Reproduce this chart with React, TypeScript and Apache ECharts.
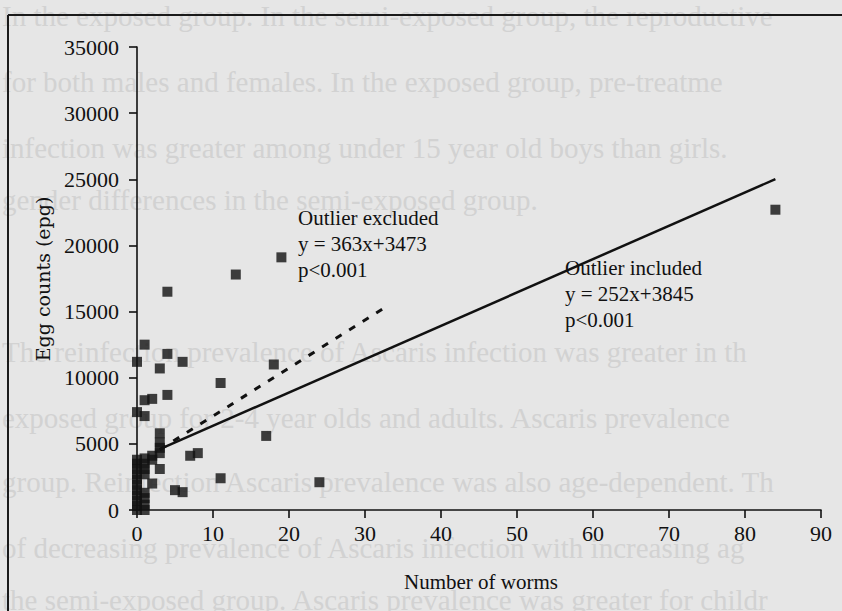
import React, { useEffect, useRef } from "react";
import * as echarts from "echarts";

// Scatter points: [number of worms, egg count (epg)]
const scatterPoints: [number, number][] = [
  [0, 11200], [1, 12500], [3, 10700], [4, 11800], [6, 11200],
  [4, 16500], [13, 17800], [19, 19100], [18, 11000], [11, 9600], [84, 22700],
  [1, 8300], [2, 8400], [4, 8700], [0, 7400], [1, 7100], [3, 5800],
  [17, 5600], [7, 4100], [8, 4300], [11, 2400], [24, 2100],
  [5, 1500], [6, 1350], [3, 3100], [2, 2000],
  // dense cluster near the origin
  [0, 0], [0, 300], [0, 700], [0, 1100], [0, 1500], [0, 1900], [0, 2300],
  [0, 2700], [0, 3100], [0, 3500], [0, 3800],
  [1, 0], [1, 400], [1, 900], [1, 1300], [1, 2700], [1, 3100], [1, 3500], [1, 3900],
  [2, 3800], [2, 4100], [3, 4300], [3, 4700], [3, 5100],
];

// Regression line end points
const fitIncluded: [number, number][] = [[3, 4601], [84, 25013]]; // y = 252x+3845
const fitExcluded: [number, number][] = [[3, 4562], [33, 15452]]; // y = 363x+3473

const xTickValues = { min: 0, max: 90, interval: 10 };
const yTickValues = { min: 0, max: 35000, interval: 5000 };

const excludedLabel = ["Outlier excluded", "y = 363x+3473", "p<0.001"];
const includedLabel = ["Outlier included", "y = 252x+3845", "p<0.001"];

// Faint bleed-through text of the scanned page
const ghostLines = [
  "In the exposed group. In the semi-exposed group, the reproductive",
  "for both males and females. In the exposed group, pre-treatme",
  "infection was greater among under 15 year old boys than girls.",
  "gender differences in the semi-exposed group.",
  "The reinfection prevalence of Ascaris infection was greater in th",
  "exposed group for 2-4 year olds and adults. Ascaris prevalence",
  "group. Reinfection Ascaris prevalence was also age-dependent. Th",
  "of decreasing prevalence of Ascaris infection with increasing ag",
  "the semi-exposed group. Ascaris prevalence was greater for childr",
];
const ghostY = [16, 82, 148, 200, 352, 418, 482, 548, 600];

const SERIF = "'Liberation Serif', 'Times New Roman', serif";
const INK = "#111111";

export default function App() {
  const ref = useRef<HTMLDivElement>(null);

  useEffect(() => {
    if (!ref.current) return;
    const chart = echarts.init(ref.current, undefined, { renderer: "svg" });

    const graphics: any[] = [];
    ghostLines.forEach((t, i) => {
      graphics.push({
        type: "text",
        x: 2,
        y: ghostY[i],
        z: -5,
        silent: true,
        style: {
          text: t,
          fill: "#d2d2d2",
          font: `29px ${SERIF}`,
          verticalAlign: "middle",
          align: "left",
        },
      });
    });
    // frame
    graphics.push({
      type: "line",
      z: 5,
      shape: { x1: 8, y1: 15, x2: 842, y2: 15 },
      style: { stroke: "#1a1a1a", lineWidth: 2 },
    });
    graphics.push({
      type: "line",
      z: 5,
      shape: { x1: 8, y1: 15, x2: 8, y2: 611 },
      style: { stroke: "#1a1a1a", lineWidth: 2 },
    });
    excludedLabel.forEach((t, i) => {
      graphics.push({
        type: "text",
        x: 298,
        y: 218 + i * 26,
        z: 10,
        style: { text: t, fill: INK, font: `21px ${SERIF}`, verticalAlign: "middle" },
      });
    });
    includedLabel.forEach((t, i) => {
      graphics.push({
        type: "text",
        x: 565,
        y: 268 + i * 26,
        z: 10,
        style: { text: t, fill: INK, font: `21px ${SERIF}`, verticalAlign: "middle" },
      });
    });
    graphics.push({
      type: "text",
      x: 43,
      y: 279,
      rotation: Math.PI / 2,
      z: 10,
      style: {
        text: "Egg counts (epg)",
        fill: INK,
        font: "19px 'DejaVu Serif', serif",
        align: "center",
        verticalAlign: "middle",
      },
    });
    graphics.push({
      type: "text",
      x: 481,
      y: 582,
      z: 10,
      style: {
        text: "Number of worms",
        fill: INK,
        font: `21px ${SERIF}`,
        align: "center",
        verticalAlign: "middle",
      },
    });

    const axisCommon = {
      axisLine: { show: true, lineStyle: { color: INK, width: 1.6 } },
      axisTick: { show: true, inside: false, length: 8, lineStyle: { color: INK, width: 1.6 } },
      splitLine: { show: false },
    };

    chart.setOption({
      animation: false,
      backgroundColor: "#e6e6e6",
      grid: { left: 137, right: 21, top: 47, bottom: 101, containLabel: false },
      xAxis: {
        type: "value",
        ...xTickValues,
        ...axisCommon,
        axisLabel: {
          color: INK,
          fontFamily: SERIF,
          fontSize: 22,
          margin: 12,
          formatter: (v: number) => String(v),
        },
      },
      yAxis: {
        type: "value",
        ...yTickValues,
        ...axisCommon,
        axisLabel: {
          color: INK,
          fontFamily: SERIF,
          fontSize: 22,
          margin: 18,
          formatter: (v: number) => String(v),
        },
      },
      graphic: graphics,
      series: [
        {
          type: "line",
          data: fitIncluded,
          showSymbol: false,
          symbol: "none",
          lineStyle: { color: INK, width: 2.5 },
          z: 3,
        },
        {
          type: "line",
          data: fitExcluded,
          showSymbol: false,
          symbol: "none",
          lineStyle: { color: INK, width: 3, type: [7, 9] },
          z: 3,
        },
        {
          type: "scatter",
          data: scatterPoints,
          symbol: "rect",
          symbolSize: 10,
          itemStyle: { color: INK },
          z: 4,
        },
      ],
    });

    return () => chart.dispose();
  }, []);

  return (
    <div
      ref={ref}
      style={{ position: "fixed", left: 0, top: 0, width: 842, height: 611 }}
    />
  );
}
